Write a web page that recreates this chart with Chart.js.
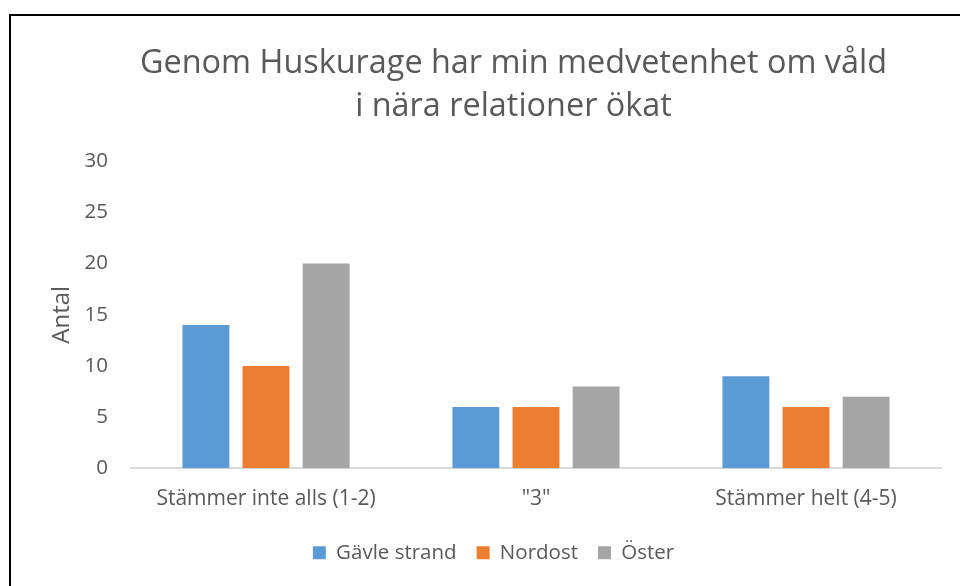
<!DOCTYPE html>
<html>
<head>
<meta charset="utf-8">
<script src="https://cdn.jsdelivr.net/npm/chart.js@4"></script>
<style>
  html, body { margin: 0; padding: 0; background: #fff; }
  #wrap { position: relative; width: 960px; height: 586px; overflow: hidden; }
  #frame { position: absolute; left: 9px; top: 14px; right: -10px; bottom: -10px;
           border-left: 2px solid #000; border-top: 2px solid #000; pointer-events: none; }
  canvas { position: absolute; left: 0; top: 0; }
</style>
</head>
<body>
<div id="wrap">
  <canvas id="chart" width="960" height="586"></canvas>
  <div id="frame"></div>
</div>
<script>
/* Grouped bar chart: answers per school area */

const TITLE_LINES = ["Genom Huskurage har min medvetenhet om våld", "i nära relationer ökat"];
const CATEGORIES = ["Stämmer inte alls (1-2)", "\"3\"", "Stämmer helt (4-5)"];
const GAVLE_STRAND = [14, 6, 9];
const NORDOST = [10, 6, 6];
const OSTER = [20, 8, 7];
const Y_TICKS = [0, 5, 10, 15, 20, 25, 30];

const TEXT = "#595959";
const FONT = "'Open Sans', Lato, sans-serif";

Chart.defaults.font.family = FONT;
Chart.defaults.color = TEXT;

function bar(label, data, color) {
  return {
    label: label,
    data: data,
    backgroundColor: color,
    borderWidth: 0,
    barPercentage: 0.78,
    categoryPercentage: 0.668,
  };
}

// the original title sits a little right of the legend's centre
const titleShift = {
  id: "titleShift",
  afterLayout: function (chart) {
    if (!chart.titleBlock) return;
    chart.titleBlock.left += 20;
    chart.titleBlock.right += 20;
  },
};

new Chart(document.getElementById("chart"), {
  type: "bar",
  plugins: [titleShift],
  data: {
    labels: CATEGORIES,
    datasets: [
      bar("Gävle strand", GAVLE_STRAND, "#5B9BD5"),
      bar("Nordost", NORDOST, "#ED7D31"),
      bar("Öster", OSTER, "#A5A5A5"),
    ],
  },
  options: {
    responsive: false,
    animation: false,
    // left padding is wide so the bottom legend sits a bit right of centre, as in the original
    layout: { padding: { left: 46, right: 19, top: 42, bottom: 13 } },
    plugins: {
      tooltip: { enabled: false },
      title: {
        display: true,
        text: TITLE_LINES,
        color: TEXT,
        font: { size: 32.4, weight: "normal", lineHeight: 1.33 },
        padding: { top: 0, bottom: 33 },
      },
      legend: {
        position: "bottom",
        labels: {
          boxWidth: 13,
          boxHeight: 13,
          padding: 20,
          color: TEXT,
          font: { size: 20.5 },
        },
      },
    },
    scales: {
      x: {
        afterFit: function (scale) { scale.height -= 7; },
        grid: { display: false, drawTicks: false },
        border: { display: true, color: "#d9d9d9", width: 2 },
        ticks: { color: TEXT, font: { size: 21 }, padding: 18 },
      },
      y: {
        min: 0,
        max: 30,
        afterBuildTicks: function (scale) {
          scale.ticks = Y_TICKS.map(function (v) { return { value: v }; });
        },
        afterFit: function (scale) { scale.width = 85; },
        grid: { display: false, drawTicks: false },
        border: { display: false },
        ticks: { color: TEXT, font: { size: 20.5 }, padding: 23 },
        title: {
          display: true,
          text: "Antal",
          color: TEXT,
          font: { size: 24 },
          padding: { top: 2, bottom: 0 },
        },
      },
    },
  },
});
</script>
</body>
</html>
